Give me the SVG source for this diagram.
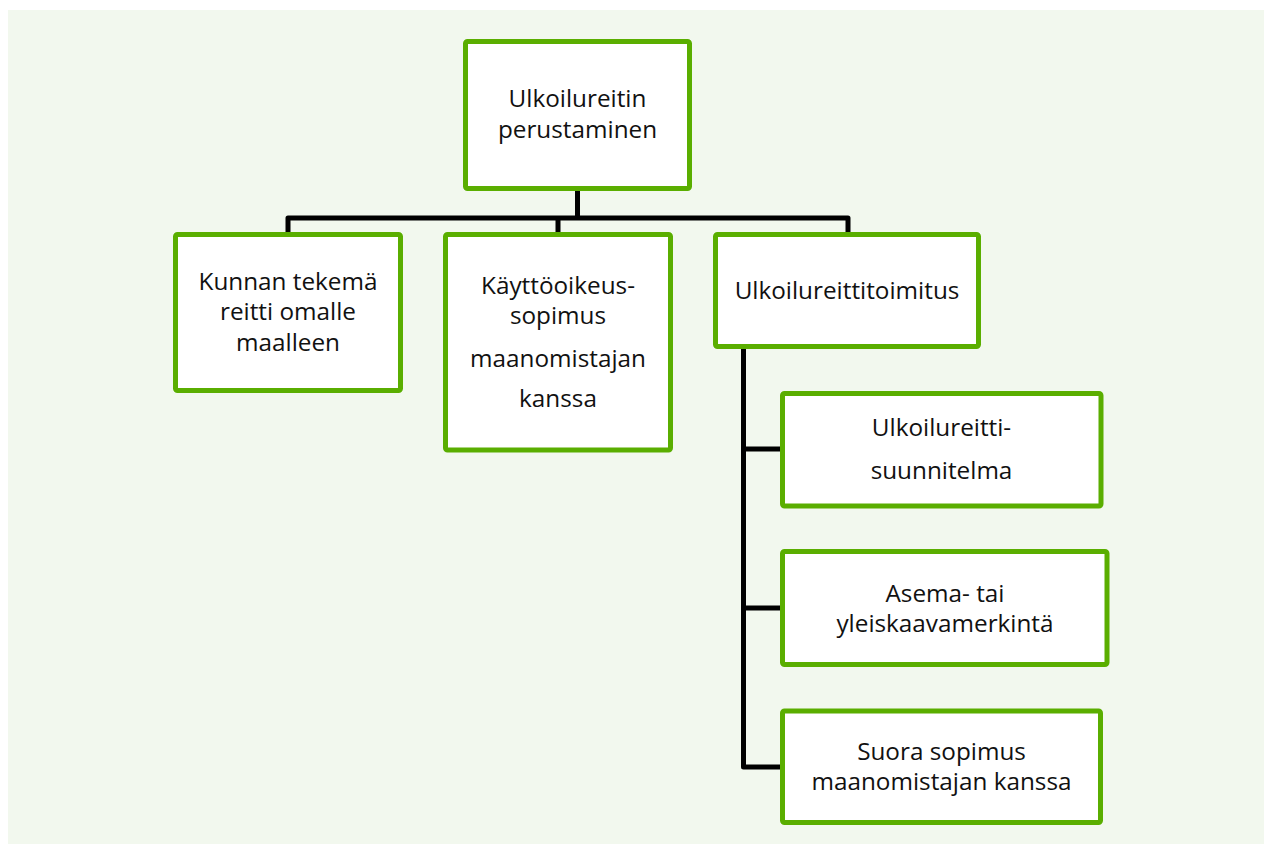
<svg xmlns="http://www.w3.org/2000/svg" width="1264" height="844" viewBox="0 0 1264 844">
<style>
.box{fill:#ffffff;stroke:#5aae00;stroke-width:5;stroke-linejoin:round}
.lbl{font-family:"Open Sans","Liberation Sans",sans-serif;font-size:24.3px;fill:#111111;text-anchor:middle}
.con{fill:none;stroke:#000000;stroke-width:5;stroke-linejoin:round;stroke-linecap:butt}
</style>
<rect x="0" y="0" width="1264" height="844" fill="#ffffff"/>
<rect x="8" y="10" width="1256" height="834" fill="#f2f8ee"/>
<g id="connectors">
<path class="con" d="M577.5,191 V218 M288,241 V218 H848 V241 M558,218 V241"/>
<path class="con" d="M743.5,349 V767 H780 M743.5,449 H780 M743.5,608 H780"/>
</g>
<g id="n0">
<rect class="box" x="465.5" y="41.5" width="224" height="147" rx="2"/>
<text class="lbl" x="577.5" y="107">Ulkoilureitin</text>
<text class="lbl" x="577.5" y="138">perustaminen</text>
</g>
<g id="n1">
<rect class="box" x="175.5" y="234.5" width="225" height="156" rx="2"/>
<text class="lbl" x="288" y="289.5">Kunnan tekemä</text>
<text class="lbl" x="288" y="320">reitti omalle</text>
<text class="lbl" x="288" y="350.5">maalleen</text>
</g>
<g id="n2">
<rect class="box" x="445.5" y="234.5" width="225" height="215.5" rx="2"/>
<text class="lbl" x="558" y="294">Käyttöoikeus-</text>
<text class="lbl" x="558" y="324">sopimus</text>
<text class="lbl" x="558" y="366.5">maanomistajan</text>
<text class="lbl" x="558" y="407">kanssa</text>
</g>
<g id="n3">
<rect class="box" x="715.5" y="234.5" width="263" height="112" rx="2"/>
<text class="lbl" x="847" y="299">Ulkoilureittitoimitus</text>
</g>
<g id="n4">
<rect class="box" x="782.5" y="393.5" width="318.5" height="112.5" rx="2"/>
<text class="lbl" x="941.5" y="436">Ulkoilureitti-</text>
<text class="lbl" x="941.5" y="479">suunnitelma</text>
</g>
<g id="n5">
<rect class="box" x="782.5" y="551.5" width="324.5" height="113" rx="2"/>
<text class="lbl" x="945" y="601.5">Asema- tai</text>
<text class="lbl" x="945" y="631.5">yleiskaavamerkintä</text>
</g>
<g id="n6">
<rect class="box" x="782.5" y="711" width="318" height="111.5" rx="2"/>
<text class="lbl" x="941.5" y="760">Suora sopimus</text>
<text class="lbl" x="941.5" y="790">maanomistajan kanssa</text>
</g>
</svg>
